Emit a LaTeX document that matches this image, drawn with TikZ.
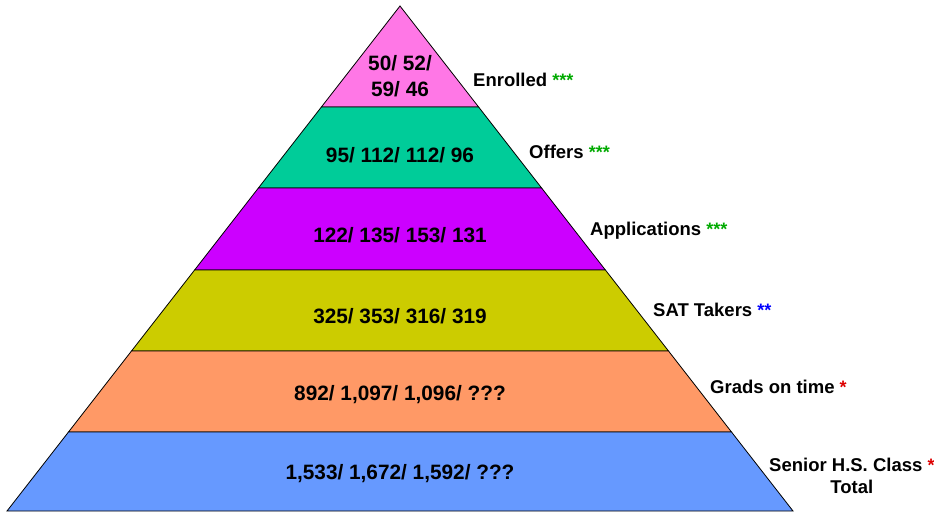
\documentclass[tikz,border=0pt]{standalone}
\usepackage{fontspec}
\setmainfont{Liberation Sans}
\usetikzlibrary{calc}
\definecolor{cpink}{HTML}{FF77E6}
\definecolor{cteal}{HTML}{00CC99}
\definecolor{cpurple}{HTML}{CC00FF}
\definecolor{colive}{HTML}{CCCC00}
\definecolor{corange}{HTML}{FF9966}
\definecolor{cblue}{HTML}{6699FF}
\definecolor{sgreen}{HTML}{00AA00}
\definecolor{sblue}{HTML}{0000FF}
\definecolor{sred}{HTML}{DD0000}
\tikzset{
  band/.style={draw=black, line width=0.8pt, line join=miter},
  val/.style={font=\fontsize{20.8}{24}\selectfont\bfseries, align=center, inner sep=0pt},
  lab/.style={font=\fontsize{18.5}{22}\selectfont\bfseries, anchor=west, inner sep=0pt, align=center},
}
\newcommand{\gs}[1]{\textcolor{sgreen}{\fontsize{18}{20}\selectfont #1}}
\newcommand{\bs}[1]{\textcolor{sblue}{\fontsize{18}{20}\selectfont #1}}
\newcommand{\rs}[1]{\textcolor{sred}{\fontsize{18}{20}\selectfont #1}}
\begin{document}
\begin{tikzpicture}[x=1pt,y=-1pt]
\useasboundingbox (0,0) rectangle (934,514);
\coordinate (A) at (400,6);
\coordinate (L1) at (321.4,107); \coordinate (R1) at (478.6,107);
\coordinate (L2) at (258.4,188); \coordinate (R2) at (541.6,188);
\coordinate (L3) at (194.6,270); \coordinate (R3) at (605.4,270);
\coordinate (L4) at (131.5,351); \coordinate (R4) at (668.5,351);
\coordinate (L5) at (68.5,432);  \coordinate (R5) at (731.5,432);
\coordinate (L6) at (7,511);     \coordinate (R6) at (793,511);
\draw[band, fill=cpink] (A) -- (R1) -- (L1) -- cycle;
\draw[band, fill=cteal] (L1) -- (R1) -- (R2) -- (L2) -- cycle;
\draw[band, fill=cpurple] (L2) -- (R2) -- (R3) -- (L3) -- cycle;
\draw[band, fill=colive] (L3) -- (R3) -- (R4) -- (L4) -- cycle;
\draw[band, fill=corange] (L4) -- (R4) -- (R5) -- (L5) -- cycle;
\draw[band, fill=cblue] (L5) -- (R5) -- (R6) -- (L6) -- cycle;

\node[val] (v1) at (400,76) {50/ 52/\\[2pt]59/ 46};
\node[val] (v2) at (400,155) {95/ 112/ 112/ 96};
\node[val] (v3) at (400,235) {122/ 135/ 153/ 131};
\node[val] (v4) at (400,316) {325/ 353/ 316/ 319};
\node[val] (v5) at (400,395) {892/ 1,097/ 1,096/ ???};
\node[val] (v6) at (400,474) {1,533/ 1,672/ 1,592/ ???};

\node[lab] (l1) at (473,80) {Enrolled \gs{***}};
\node[lab] (l2) at (529,152) {Offers \gs{***}};
\node[lab] (l3) at (590,231) {Applications \gs{***}};
\node[lab] (l4) at (653,310) {SAT Takers \bs{**}};
\node[lab] (l5) at (710,387) {Grads on time \rs{*}};
\node[lab] (l6) at (769,476) {Senior H.S. Class \rs{*}\\Total};
\end{tikzpicture}
\end{document}
